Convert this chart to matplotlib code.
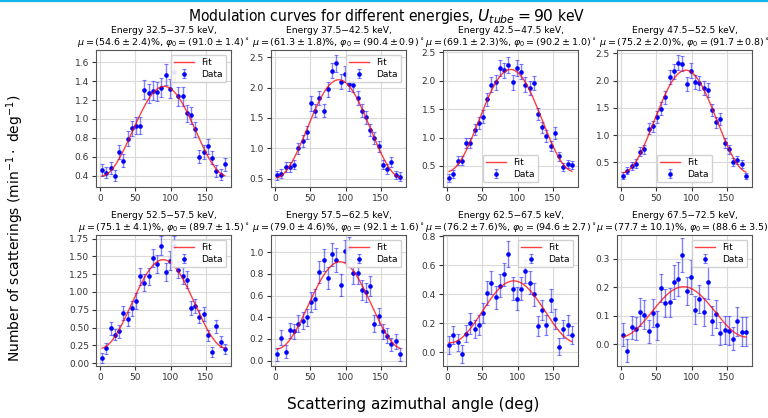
import numpy as np
import matplotlib
matplotlib.use("Agg")
import matplotlib.pyplot as plt
from matplotlib.lines import Line2D
from matplotlib.ticker import MultipleLocator

# ---------------- data ----------------
angles = [3, 9, 15, 21, 27, 33, 39, 45, 51, 57, 63, 69, 75, 81, 87,
          93, 99, 105, 111, 117, 123, 129, 135, 141, 147, 153, 159, 165, 171, 177]

energy_labels = ["32.5\u221237.5", "37.5\u221242.5", "42.5\u221247.5", "47.5\u221252.5",
                 "52.5\u221257.5", "57.5\u221262.5", "62.5\u221267.5", "67.5\u221272.5"]
mu_text = ["54.6\\pm2.4", "61.3\\pm1.8", "69.1\\pm2.3", "75.2\\pm2.0",
           "75.1\\pm4.1", "79.0\\pm4.6", "76.2\\pm7.6", "77.7\\pm10.1"]
phi_text = ["91.0\\pm1.4", "90.4\\pm0.9", "90.2\\pm1.0", "91.7\\pm0.8",
            "89.7\\pm1.5", "92.1\\pm1.6", "94.6\\pm2.7", "88.6\\pm3.5"]

# fit parameters: mean level C, modulation mu, phase phi0
fit_C = [0.87, 1.32, 1.30, 1.25, 0.83, 0.51, 0.28, 0.1135]
fit_mu = [0.546, 0.613, 0.691, 0.752, 0.751, 0.790, 0.762, 0.777]
fit_phi0 = [91.0, 90.4, 90.2, 91.7, 89.7, 92.1, 94.6, 88.6]

y1 = [0.46, 0.43, 0.48, 0.40, 0.65, 0.56, 0.79, 0.90, 0.93, 0.93, 1.31, 1.27, 1.30, 1.29, 1.33,
      1.47, 1.32, 1.50, 1.24, 1.24, 1.06, 1.04, 0.89, 0.60, 0.65, 0.71, 0.59, 0.45, 0.41, 0.52]
e1 = [0.06, 0.06, 0.06, 0.06, 0.07, 0.07, 0.08, 0.08, 0.09, 0.09, 0.10, 0.10, 0.10, 0.10, 0.10,
      0.11, 0.10, 0.11, 0.10, 0.10, 0.09, 0.09, 0.08, 0.07, 0.07, 0.08, 0.07, 0.06, 0.06, 0.07]

y2 = [0.55, 0.58, 0.69, 0.69, 0.73, 1.00, 1.12, 1.26, 1.74, 1.62, 1.83, 1.62, 1.97, 2.28, 2.40,
      2.10, 2.23, 2.06, 2.04, 1.83, 1.62, 1.51, 1.30, 1.17, 1.03, 0.73, 0.66, 0.77, 0.56, 0.53]
e2 = [0.07, 0.07, 0.08, 0.08, 0.08, 0.09, 0.10, 0.10, 0.12, 0.11, 0.12, 0.11, 0.12, 0.13, 0.14,
      0.13, 0.13, 0.12, 0.12, 0.12, 0.11, 0.11, 0.10, 0.10, 0.09, 0.08, 0.08, 0.08, 0.07, 0.07]

y3 = [0.28, 0.36, 0.59, 0.59, 0.90, 0.90, 1.14, 1.26, 1.37, 1.67, 1.93, 1.97, 2.22, 2.18, 2.28,
      1.97, 2.22, 2.16, 1.93, 1.87, 1.96, 1.41, 1.18, 1.03, 0.85, 1.08, 0.67, 0.48, 0.54, 0.51]
e3 = [0.07, 0.07, 0.08, 0.08, 0.09, 0.09, 0.10, 0.11, 0.11, 0.12, 0.13, 0.13, 0.14, 0.14, 0.14,
      0.13, 0.14, 0.13, 0.13, 0.13, 0.13, 0.11, 0.10, 0.10, 0.09, 0.10, 0.08, 0.07, 0.07, 0.07]

y4 = [0.26, 0.35, 0.44, 0.48, 0.70, 0.74, 1.12, 1.16, 1.34, 1.48, 1.69, 2.06, 2.17, 2.33, 2.31,
      1.94, 2.18, 1.98, 1.96, 1.87, 1.82, 1.46, 1.24, 1.30, 0.86, 0.74, 0.51, 0.54, 0.47, 0.25]
e4 = [0.06, 0.07, 0.07, 0.08, 0.08, 0.08, 0.10, 0.10, 0.11, 0.12, 0.12, 0.13, 0.14, 0.14, 0.14,
      0.13, 0.14, 0.13, 0.13, 0.13, 0.13, 0.11, 0.10, 0.11, 0.09, 0.08, 0.07, 0.07, 0.07, 0.06]

y5 = [0.075, 0.21, 0.49, 0.40, 0.45, 0.70, 0.62, 0.77, 0.87, 1.22, 1.13, 1.22, 1.48, 1.39, 1.65,
      1.28, 1.44, 1.65, 1.31, 1.23, 1.17, 0.77, 0.80, 0.65, 0.69, 0.39, 0.16, 0.52, 0.30, 0.20]
e5 = [0.07, 0.08, 0.09, 0.08, 0.09, 0.10, 0.10, 0.11, 0.11, 0.12, 0.12, 0.12, 0.13, 0.13, 0.13,
      0.12, 0.13, 0.13, 0.12, 0.12, 0.12, 0.10, 0.10, 0.09, 0.10, 0.08, 0.07, 0.09, 0.08, 0.07]

y6 = [0.06, 0.21, 0.08, 0.28, 0.27, 0.34, 0.37, 0.40, 0.54, 0.57, 0.82, 0.93, 0.76, 0.98, 0.93,
      0.70, 1.01, 1.04, 0.81, 0.81, 0.65, 0.63, 0.69, 0.34, 0.41, 0.27, 0.23, 0.15, 0.18, 0.06]
e6 = [0.06, 0.07, 0.06, 0.07, 0.07, 0.08, 0.08, 0.08, 0.09, 0.09, 0.10, 0.10, 0.10, 0.11, 0.11,
      0.10, 0.10, 0.10, 0.10, 0.10, 0.09, 0.09, 0.09, 0.08, 0.08, 0.07, 0.07, 0.06, 0.07, 0.06]

y7 = [0.05, 0.12, 0.07, -0.01, 0.13, 0.20, 0.16, 0.19, 0.27, 0.41, 0.48, 0.38, 0.46, 0.54, 0.68,
      0.44, 0.37, 0.44, 0.56, 0.48, 0.40, 0.18, 0.29, 0.19, 0.36, 0.23, 0.04, 0.16, 0.19, 0.12]
e7 = [0.06, 0.06, 0.06, 0.06, 0.06, 0.07, 0.06, 0.07, 0.07, 0.08, 0.08, 0.08, 0.08, 0.08, 0.09,
      0.08, 0.08, 0.08, 0.08, 0.08, 0.08, 0.07, 0.07, 0.07, 0.08, 0.07, 0.06, 0.06, 0.07, 0.06]

y8 = [0.034, -0.023, 0.059, 0.054, 0.114, 0.104, 0.046, 0.109, 0.066, 0.198, 0.144, 0.147, 0.219,
      0.230, 0.312, 0.186, 0.237, 0.120, 0.158, 0.114, 0.220, 0.083, 0.107, 0.038, 0.050, 0.048,
      0.020, 0.080, 0.044, 0.044]
e8 = [0.04, 0.04, 0.04, 0.04, 0.05, 0.05, 0.04, 0.05, 0.05, 0.05, 0.05, 0.05, 0.06, 0.06, 0.06,
      0.05, 0.06, 0.05, 0.05, 0.05, 0.06, 0.05, 0.05, 0.04, 0.05, 0.05, 0.04, 0.05, 0.05, 0.05]

values = [y1, y2, y3, y4, y5, y6, y7, y8]
errors = [e1, e2, e3, e4, e5, e6, e7, e8]
y_limits = [(0.28, 1.73), (0.36, 2.62), (0.13, 2.54), (0.05, 2.56),
            (-0.04, 1.80), (-0.05, 1.16), (-0.094, 0.81), (-0.076, 0.383)]
y_steps = [0.2, 0.5, 0.5, 0.5, 0.25, 0.2, 0.2, 0.1]
legend_loc = ["upper right", "upper right", "lower center", "lower center",
              "upper right", "upper right", "upper right", "upper right"]

# ---------------- figure ----------------
W, H = 768, 418
fig = plt.figure(figsize=(W / 100, H / 100), dpi=100)

col_left = [96, 271, 443, 617]
ax_w = 135
rows = [(50, 187), (235, 366)]

for i in range(8):
    r, c = divmod(i, 4)
    top, bot = rows[r]
    ax = fig.add_axes([col_left[c] / W, 1 - bot / H, ax_w / W, (bot - top) / H])
    x = np.array(angles)
    xf = np.linspace(angles[0], angles[-1], 300)
    yf = fit_C[i] * (1 + fit_mu[i] * np.cos(np.deg2rad(2 * (xf - fit_phi0[i]))))
    ax.plot(xf, yf, color="red", lw=1.0, alpha=0.75, label="Fit", zorder=3)
    ax.errorbar(x, values[i], yerr=errors[i], fmt="o", color="blue", ms=2.3,
                ecolor=(0.1, 0.1, 1.0, 0.55), elinewidth=1.0, capsize=1.5,
                capthick=0.8, label="Data", zorder=2)
    ax.set_ylim(*y_limits[i])
    ax.yaxis.set_major_locator(MultipleLocator(y_steps[i]))
    ax.grid(True, color="#d9d9d9", lw=0.8)
    ax.set_axisbelow(True)
    ax.tick_params(labelsize=6.5, length=3, pad=2, colors="#333333")
    for s in ax.spines.values():
        s.set_color("#555555")
        s.set_linewidth(0.8)
    ax.set_xticks([0, 50, 100, 150])
    ax.set_title(r"$\mu = (" + mu_text[i] + r")\%$, "
                 + r"$\varphi_0 = (" + phi_text[i] + r")^\circ$",
                 fontsize=6.8, pad=2.5)
    ax.annotate("Energy " + energy_labels[i] + " keV,", xy=(0.5, 1.0),
                xycoords="axes fraction", xytext=(0, 11), textcoords="offset points",
                ha="center", va="bottom", fontsize=6.6)
    ax.legend(loc=legend_loc[i], fontsize=6.5, handlelength=2.2, framealpha=0.9,
              borderpad=0.4, labelspacing=0.3)

fig.text(387 / W, 1 - 16 / H, r"Modulation curves for different energies, $U_{tube} = 90$ keV",
         ha="center", va="center", fontsize=11.2, family="DejaVu Sans", fontstretch="condensed")
fig.text(413 / W, 1 - 405 / H, "Scattering azimuthal angle (deg)",
         ha="center", va="center", fontsize=11)
fig.text(15 / W, 1 - 228 / H, r"Number of scatterings (min$^{-1}\cdot$ deg$^{-1}$)",
         ha="center", va="center", rotation=90, fontsize=10)

# thin cyan rule at the very top
fig.add_artist(Line2D([0, 1], [1 - 1 / H, 1 - 1 / H], transform=fig.transFigure,
                      color="#12b5ea", lw=1.6))

fig.savefig("out.png", dpi=100)
